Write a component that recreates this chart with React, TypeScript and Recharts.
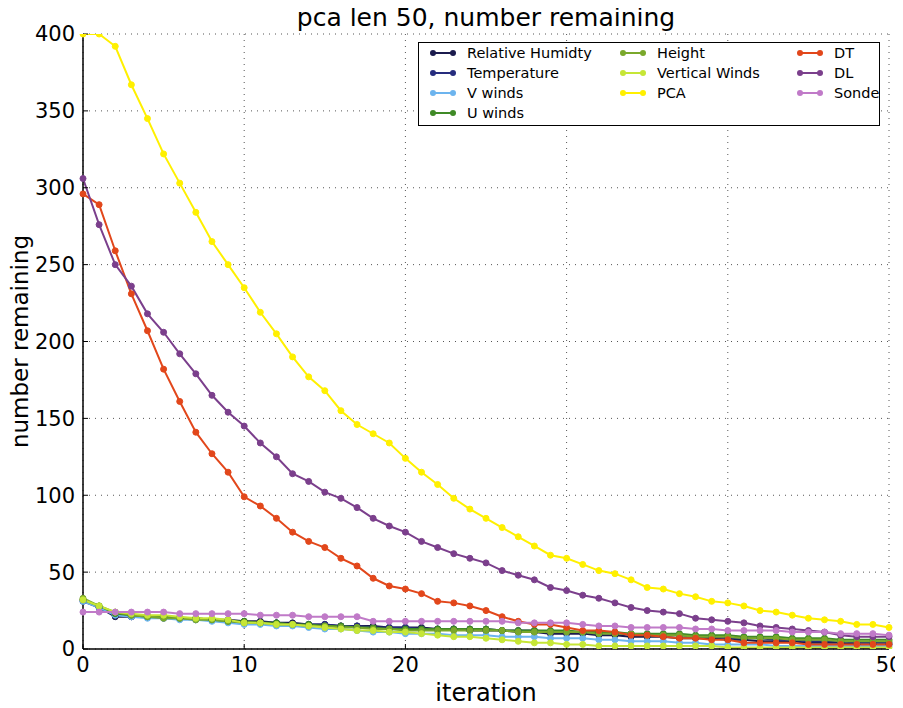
import { CartesianGrid, Line, LineChart, XAxis, YAxis } from 'recharts'

// iteration index 0..50
const ITERATIONS = Array.from({ length: 51 }, (_, i) => i)
const X_TICKS = [0, 10, 20, 30, 40, 50]
const Y_TICKS = [0, 50, 100, 150, 200, 250, 300, 350, 400]

const RELATIVE_HUMIDITY = [32, 27, 21, 21, 21, 21, 20, 20, 19, 19, 18, 18, 17, 17, 16, 16, 15, 15, 15, 14, 14, 14, 13, 13, 12, 12, 12, 11, 11, 10, 10, 10, 9, 9, 8, 8, 8, 7, 7, 7, 6, 6, 5, 5, 5, 4, 4, 4, 3, 3, 3]
const TEMPERATURE = [31, 27, 22, 21, 21, 20, 20, 19, 19, 18, 17, 17, 17, 16, 16, 16, 15, 15, 14, 14, 14, 13, 13, 13, 13, 13, 12, 12, 12, 11, 11, 11, 10, 10, 10, 9, 9, 9, 8, 8, 7, 7, 7, 6, 6, 5, 5, 5, 4, 4, 4]
const V_WINDS = [31, 27, 22, 21, 20, 20, 19, 19, 18, 17, 16, 16, 15, 15, 14, 13, 13, 12, 11, 11, 10, 10, 10, 9, 9, 9, 8, 8, 8, 7, 7, 7, 6, 6, 5, 5, 5, 4, 4, 3, 3, 3, 3, 2, 2, 2, 2, 2, 2, 2, 2]
const U_WINDS = [32, 28, 23, 22, 21, 21, 20, 20, 19, 18, 18, 17, 17, 16, 16, 15, 15, 14, 14, 13, 13, 13, 13, 13, 13, 13, 12, 12, 12, 12, 12, 11, 11, 11, 10, 10, 10, 10, 9, 9, 9, 8, 8, 8, 7, 7, 7, 6, 6, 6, 6]
const HEIGHT = [33, 28, 24, 22, 21, 20, 20, 19, 19, 18, 17, 17, 16, 16, 15, 15, 14, 14, 13, 13, 12, 12, 12, 12, 12, 12, 12, 11, 11, 11, 11, 11, 10, 10, 10, 9, 9, 9, 8, 8, 8, 7, 7, 7, 6, 6, 6, 5, 5, 5, 5]
const VERTICAL_WINDS = [32, 28, 24, 23, 22, 22, 21, 20, 20, 19, 17, 17, 16, 16, 15, 14, 13, 12, 12, 11, 11, 10, 9, 8, 8, 7, 6, 5, 4, 4, 3, 3, 2, 2, 2, 2, 2, 2, 2, 2, 1, 1, 1, 1, 1, 1, 1, 1, 1, 1, 1]
const PCA = [400, 400, 392, 367, 345, 322, 303, 284, 265, 250, 235, 219, 205, 190, 177, 168, 155, 146, 140, 134, 124, 115, 107, 98, 91, 85, 79, 73, 67, 61, 59, 55, 51, 49, 45, 40, 39, 36, 34, 31, 30, 28, 25, 24, 22, 20, 19, 18, 16, 16, 14]
const DT = [296, 289, 259, 231, 207, 182, 161, 141, 127, 115, 99, 93, 85, 76, 70, 66, 59, 54, 46, 41, 39, 36, 31, 30, 28, 25, 21, 18, 16, 16, 14, 12, 12, 11, 9, 9, 8, 7, 7, 6, 6, 4, 4, 4, 4, 3, 3, 3, 3, 3, 3]
const DL = [306, 276, 250, 236, 218, 206, 192, 179, 165, 154, 145, 134, 125, 114, 109, 102, 98, 92, 85, 80, 76, 70, 66, 62, 59, 56, 51, 48, 45, 40, 38, 35, 33, 30, 27, 25, 24, 23, 20, 19, 18, 17, 15, 14, 13, 12, 11, 9, 8, 8, 8]
const SONDE = [24, 24, 24, 24, 24, 24, 23, 23, 23, 23, 23, 22, 22, 22, 21, 21, 21, 21, 18, 18, 18, 18, 18, 18, 18, 18, 18, 17, 17, 17, 17, 16, 15, 15, 14, 14, 14, 14, 13, 13, 12, 12, 12, 12, 11, 11, 11, 10, 10, 10, 9]

const SERIES = [
  { key: 'rh', name: 'Relative Humidty', color: '#1b1b4d', values: RELATIVE_HUMIDITY },
  { key: 'temp', name: 'Temperature', color: '#262c7e', values: TEMPERATURE },
  { key: 'v', name: 'V winds', color: '#6cb4ee', values: V_WINDS },
  { key: 'u', name: 'U winds', color: '#3f8a26', values: U_WINDS },
  { key: 'height', name: 'Height', color: '#7aa82b', values: HEIGHT },
  { key: 'vw', name: 'Vertical Winds', color: '#c6e636', values: VERTICAL_WINDS },
  { key: 'pca', name: 'PCA', color: '#fff000', values: PCA },
  { key: 'dt', name: 'DT', color: '#e2471b', values: DT },
  { key: 'dl', name: 'DL', color: '#7b3f8c', values: DL },
  { key: 'sonde', name: 'Sonde', color: '#c07ac8', values: SONDE },
]

const chartData = ITERATIONS.map((it, i) => {
  const row: Record<string, number> = { iteration: it }
  SERIES.forEach((s) => {
    row[s.key] = s.values[i]
  })
  return row
})

const FONT = "'DejaVu Sans', sans-serif"

// matplotlib ncol=3 legend: 4 + 3 + 3 entries, column-major
const LEGEND_COLS = [10, 200, 377]
const LEGEND_COL_SIZES = [4, 3, 3]
const LEGEND_ROW_H = 20

function legendSlot(i: number) {
  let start = 0
  for (let c = 0; c < LEGEND_COL_SIZES.length; c++) {
    if (i < start + LEGEND_COL_SIZES[c]) return { col: c, row: i - start }
    start += LEGEND_COL_SIZES[c]
  }
  return { col: 0, row: 0 }
}

function LegendBox() {
  return (
    <div
      style={{
        position: 'absolute',
        left: 410,
        top: 34,
        width: 462,
        height: 84,
        border: '1.5px solid #000',
        background: '#fff',
        boxSizing: 'border-box',
        fontFamily: FONT,
        fontSize: 14.5,
      }}
    >
      {SERIES.map((s, i) => {
        const { col, row } = legendSlot(i)
        return (
          <div
            key={s.key}
            style={{
              position: 'absolute',
              left: LEGEND_COLS[col],
              top: row * LEGEND_ROW_H,
              height: LEGEND_ROW_H,
              display: 'flex',
              alignItems: 'center',
              whiteSpace: 'nowrap',
            }}
          >
            <svg width={28} height={10} style={{ marginRight: 10 }}>
              <line x1={4} y1={5} x2={24} y2={5} stroke={s.color} strokeWidth={2} />
              <circle cx={4} cy={5} r={3} fill={s.color} />
              <circle cx={24} cy={5} r={3} fill={s.color} />
            </svg>
            <span>{s.name}</span>
          </div>
        )
      })}
    </div>
  )
}

const frameAxis = { stroke: '#000', strokeWidth: 1.5 }

export default function App() {
  return (
    <div style={{ position: 'relative', width: 895, height: 700, fontFamily: FONT }}>
      <div
        style={{
          position: 'absolute',
          left: 75,
          width: 806,
          top: -3,
          textAlign: 'center',
          fontSize: 25,
          lineHeight: '25px',
          color: '#000',
        }}
      >
        pca len 50, number remaining
      </div>
      <LineChart
        width={895}
        height={700}
        data={chartData}
        margin={{ top: 26, right: 14, bottom: 0, left: 0 }}
        style={{ fontFamily: FONT }}
      >
        <CartesianGrid stroke="#555" strokeDasharray="1 5" />
        <XAxis
          dataKey="iteration"
          type="number"
          domain={[0, 50]}
          ticks={X_TICKS}
          height={59}
          tick={{ fontSize: 21, fill: '#000' }}
          tickSize={-5}
          tickMargin={13}
          tickLine={{ stroke: '#000' }}
          axisLine={frameAxis}
          label={{ value: 'iteration', position: 'insideBottom', offset: 7, fontSize: 24, fill: '#000' }}
        />
        <XAxis
          xAxisId="top"
          orientation="top"
          dataKey="iteration"
          type="number"
          domain={[0, 50]}
          ticks={X_TICKS}
          height={0}
          tick={false}
          tickSize={-5}
          tickLine={{ stroke: '#000' }}
          axisLine={frameAxis}
        />
        <YAxis
          type="number"
          domain={[0, 400]}
          ticks={Y_TICKS}
          allowDataOverflow
          width={75}
          tick={{ fontSize: 21, fill: '#000' }}
          tickSize={-5}
          tickMargin={13}
          tickLine={{ stroke: '#000' }}
          axisLine={frameAxis}
          label={{
            value: 'number remaining',
            angle: -90,
            position: 'insideLeft',
            offset: 12,
            fontSize: 23,
            fill: '#000',
            style: { textAnchor: 'middle' },
          }}
        />
        <YAxis
          yAxisId="right"
          orientation="right"
          type="number"
          domain={[0, 400]}
          ticks={Y_TICKS}
          allowDataOverflow
          width={0}
          tick={false}
          tickSize={-5}
          tickLine={{ stroke: '#000' }}
          axisLine={frameAxis}
        />
        {SERIES.map((s) => (
          <Line
            key={s.key}
            dataKey={s.key}
            name={s.name}
            type="linear"
            stroke={s.color}
            strokeWidth={2}
            dot={{ r: 3, fill: s.color, stroke: s.color, strokeWidth: 1 }}
            isAnimationActive={false}
          />
        ))}
      </LineChart>
      <LegendBox />
    </div>
  )
}
